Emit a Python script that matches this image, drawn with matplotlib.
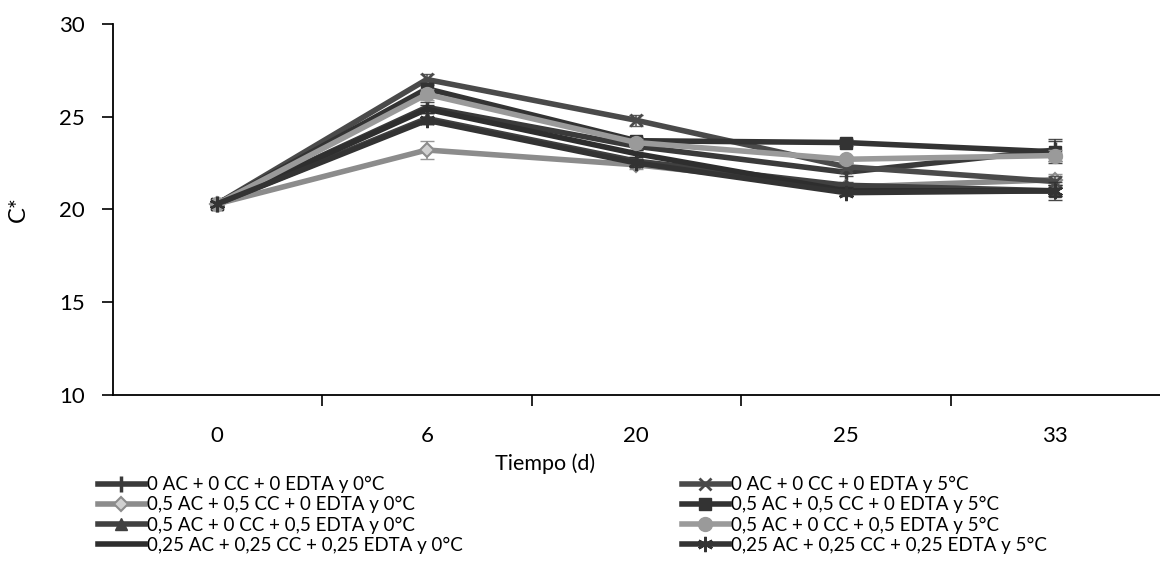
import numpy as np
import matplotlib
matplotlib.use("Agg")
import matplotlib.pyplot as plt

plt.rcParams['font.family'] = ['Lato', 'DejaVu Sans']

# tiempo de almacenamiento (d), eje de categorias
days = ['0', '6', '20', '25', '33']

# C* por tratamiento
c_0ac_0c = [20.3, 25.5, 23.4, 22.0, 23.2]
c_05ac05cc_0c = [20.3, 23.2, 22.4, 21.2, 21.6]
c_05ac05edta_0c = [20.3, 24.9, 22.6, 21.3, 21.0]
c_025_0c = [20.3, 25.4, 23.0, 21.0, 21.0]
c_0ac_5c = [20.3, 27.0, 24.8, 22.3, 21.5]
c_05ac05cc_5c = [20.3, 26.5, 23.7, 23.6, 23.1]
c_05ac05edta_5c = [20.3, 26.2, 23.6, 22.7, 22.9]
c_025_5c = [20.3, 24.8, 22.5, 20.9, 21.0]

# desviaciones (barras de error)
e_0ac_0c = [0.1, 0.3, 0.2, 0.2, 0.6]
e_05ac05cc_0c = [0.1, 0.5, 0.2, 0.2, 0.3]
e_05ac05edta_0c = [0.1, 0.3, 0.2, 0.2, 0.3]
e_025_0c = [0.1, 0.2, 0.2, 0.2, 0.3]
e_0ac_5c = [0.1, 0.3, 0.3, 0.2, 0.3]
e_05ac05cc_5c = [0.1, 0.3, 0.2, 0.2, 0.6]
e_05ac05edta_5c = [0.1, 0.3, 0.2, 0.2, 0.3]
e_025_5c = [0.1, 0.2, 0.2, 0.2, 0.5]

labels_0c = ['0 AC + 0 CC + 0 EDTA y 0°C',
             '0,5 AC + 0,5 CC + 0 EDTA y 0°C',
             '0,5 AC + 0 CC + 0,5 EDTA y 0°C',
             '0,25 AC + 0,25 CC + 0,25 EDTA y 0°C']
labels_5c = ['0 AC + 0 CC + 0 EDTA y 5°C',
             '0,5 AC + 0,5 CC + 0 EDTA y 5°C',
             '0,5 AC + 0 CC + 0,5 EDTA y 5°C',
             '0,25 AC + 0,25 CC + 0,25 EDTA y 5°C']

series_0c = [c_0ac_0c, c_05ac05cc_0c, c_05ac05edta_0c, c_025_0c]
errs_0c = [e_0ac_0c, e_05ac05cc_0c, e_05ac05edta_0c, e_025_0c]
series_5c = [c_0ac_5c, c_05ac05cc_5c, c_05ac05edta_5c, c_025_5c]
errs_5c = [e_0ac_5c, e_05ac05cc_5c, e_05ac05edta_5c, e_025_5c]

styles_0c = [dict(color='#3a3a3a', marker='|', ms=12, mew=2.5),
             dict(color='#8c8c8c', marker='D', ms=7, mfc='#d0d0d0', mew=1.5),
             dict(color='#404040', marker='^', ms=9),
             dict(color='#2e2e2e', marker='None')]
styles_5c = [dict(color='#4a4a4a', marker='x', ms=9, mew=2),
             dict(color='#333333', marker='s', ms=9),
             dict(color='#9a9a9a', marker='o', ms=10),
             dict(color='#333333', marker=(6, 2, 0), ms=11, mew=1.8)]

fig = plt.figure(figsize=(11.6, 5.8), dpi=100)
ax = fig.add_axes([0.097, 0.319, 0.903, 0.64])

x = np.arange(len(days))
handles_0c = []
handles_5c = []
for ys, es, st, lab in zip(series_0c, errs_0c, styles_0c, labels_0c):
    ax.errorbar(x, ys, yerr=es, ecolor=st['color'], elinewidth=1.2, capsize=5,
                linestyle='None', marker='None', alpha=0.9)
    h, = ax.plot(x, ys, lw=4, label=lab, **st)
    handles_0c.append(h)
for ys, es, st, lab in zip(series_5c, errs_5c, styles_5c, labels_5c):
    ax.errorbar(x, ys, yerr=es, ecolor=st['color'], elinewidth=1.2, capsize=5,
                linestyle='None', marker='None', alpha=0.9)
    h, = ax.plot(x, ys, lw=4, label=lab, **st)
    handles_5c.append(h)

ax.set_xlim(-0.5, len(days) - 0.5)
ax.set_ylim(10, 30)
ax.set_yticks([10, 15, 20, 25, 30])
ax.set_xticks(x)
ax.set_xticklabels(days)
ax.set_xticks(np.arange(0.5, len(days) - 0.5, 1), minor=True)
ax.tick_params(axis='x', which='major', length=0, pad=22, labelsize=16)
ax.tick_params(axis='x', which='minor', length=8, width=1.2, direction='out')
ax.tick_params(axis='y', length=8, width=1.2, direction='out', pad=12, labelsize=16)
for s in ['top', 'right']:
    ax.spines[s].set_visible(False)
for s in ['left', 'bottom']:
    ax.spines[s].set_linewidth(1.3)

ax.set_ylabel('C*', fontsize=17, labelpad=22)
fig.text(545 / 1160, 1 - 464 / 580, 'Tiempo (d)', fontsize=15.5, ha='center', va='center')

leg_kw = dict(frameon=False, fontsize=13.5, handlelength=2.5, handletextpad=0.1,
              labelspacing=0.17, borderpad=0, borderaxespad=0)
fig.legend(handles=handles_0c, loc='upper left',
           bbox_to_anchor=(98 / 1160, 1 - 476 / 580), **leg_kw)
fig.legend(handles=handles_5c, loc='upper left',
           bbox_to_anchor=(682 / 1160, 1 - 476 / 580), **leg_kw)

fig.savefig('out.png', dpi=100)
